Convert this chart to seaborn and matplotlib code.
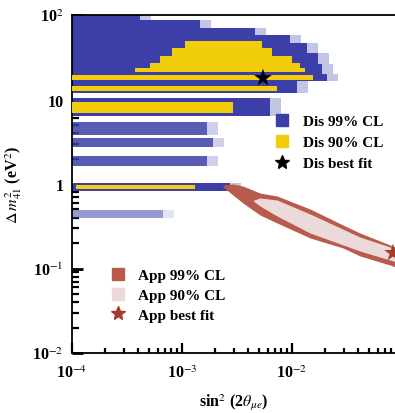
import matplotlib
matplotlib.use("Agg")
import matplotlib.pyplot as plt
import seaborn as sns
import pandas as pd
from matplotlib.lines import Line2D
from matplotlib.ticker import FixedLocator, FixedFormatter, LogLocator, NullFormatter

# ---- Disappearance 99% CL bands (dm2 low, dm2 high, max sin^2) ----
dis99_lo = [87.3, 70.2, 58.0, 46.6, 35.5, 26.3, 20.0, 16.6, 11.9, 6.38, 3.80, 2.74, 1.63, 0.826, 0.396]
dis99_hi = [100.0, 87.3, 70.2, 58.0, 46.6, 35.5, 26.3, 20.0, 16.6, 10.4, 5.42, 3.50, 2.14, 1.03, 0.492]
dis99_smax = [4.15e-4, 1.46e-3, 4.61e-3, 9.59e-3, 1.37e-2, 1.72e-2, 1.87e-2, 2.08e-2, 1.11e-2,
              6.31e-3, 1.69e-3, 1.91e-3, 1.69e-3, 2.73e-3, 6.72e-4]
dis99_density = [1, 1, 1, 1, 1, 1, 1, 1, 1, 1, 0.8, 0.8, 0.8, 1, 0.45]

# ---- Disappearance 90% CL bands (dm2 low, dm2 high, min/max sin^2) ----
dis90_lo = [40.7, 32.7, 27.0, 23.6, 21.2, 17.0, 12.6, 6.92, 0.873]
dis90_hi = [49.2, 40.7, 32.7, 27.0, 23.6, 19.5, 14.4, 9.34, 0.973]
dis90_smin = [1.065e-3, 8.11e-4, 6.31e-4, 5.12e-4, 3.74e-4, 1e-4, 1e-4, 1e-4, 1.087e-4]
dis90_smax = [5.34e-3, 6.58e-3, 1.0e-2, 1.18e-2, 1.31e-2, 1.55e-2, 7.31e-3, 2.91e-3, 1.31e-3]

# ---- Appearance 99% CL contour (sin^2, dm2 lower/upper edges) ----
app99_s = [2.36e-3, 2.91e-3, 3.58e-3, 5.12e-3, 7.31e-3, 1.46e-2, 2.91e-2, 4.15e-2, 7.78e-2, 0.118]
app99_up = [0.973, 1.0, 0.947, 0.782, 0.721, 0.506, 0.327, 0.263, 0.190, 0.153]
app99_lo = [0.922, 0.741, 0.596, 0.430, 0.346, 0.230, 0.175, 0.141, 0.110, 0.0909]

# ---- Appearance 90% CL contour ----
app90_s = [4.42e-3, 5.12e-3, 7.31e-3, 1.46e-2, 4.15e-2, 7.78e-2, 0.118]
app90_up = [0.640, 0.683, 0.647, 0.442, 0.236, 0.180, 0.148]
app90_lo = [0.635, 0.549, 0.418, 0.263, 0.161, 0.126, 0.107]

# ---- Best fits ----
best_names = ["Dis best fit", "App best fit"]
best_s = [5.45e-3, 8.28e-2]
best_dm2 = [18.0, 0.153]

ytick_vals = [1e-2, 1e-1, 1, 10, 100]
ytick_labels = ["10$^{-2}$", "10$^{-1}$", "1", "10", "10$^{2}$"]
xtick_vals = [1e-4, 1e-3, 1e-2]
xtick_labels = ["10$^{-4}$", "10$^{-3}$", "10$^{-2}$"]

BLUE = "#3b3fa7"
YELLOW = "#f2cd0a"
APP99 = "#b85a4c"
APP90 = "#ecdada"
APPSTAR = "#a83a2c"

sns.set_style("white")
plt.rcParams["font.family"] = ["Liberation Serif", "DejaVu Serif"]
plt.rcParams["mathtext.fontset"] = "stix"
plt.rcParams["text.color"] = "black"
plt.rcParams["axes.labelcolor"] = "black"
plt.rcParams["xtick.color"] = "black"
plt.rcParams["ytick.color"] = "black"

fig = plt.figure(figsize=(3.95, 4.14), dpi=100)
ax = fig.add_axes([0.1823, 0.1449, 0.8177, 0.8164])
ax.set_xscale("log")
ax.set_yscale("log")
ax.set_xlim(1e-4, 0.0864)
ax.set_ylim(1e-2, 100)

for lo, hi, sm, d in zip(dis99_lo, dis99_hi, dis99_smax, dis99_density):
    # faded scatter tail beyond the solid region
    ax.fill_betweenx([lo, hi], 1e-4, sm * 1.25, color=BLUE, alpha=0.3 * d, lw=0, zorder=2)
    ax.fill_betweenx([lo, hi], 1e-4, sm, color=BLUE, alpha=d, lw=0, zorder=2)
for lo, hi, s0, s1 in zip(dis90_lo, dis90_hi, dis90_smin, dis90_smax):
    ax.fill_betweenx([lo, hi], s0, s1, color=YELLOW, lw=0, zorder=3)

ax.fill_between(app99_s, app99_lo, app99_up, color=APP99, lw=0, zorder=4)
ax.fill_between(app90_s, app90_lo, app90_up, color=APP90, lw=0, zorder=5)

df = pd.DataFrame({"s": best_s, "dm2": best_dm2, "name": best_names})
sns.scatterplot(data=df, x="s", y="dm2", hue="name", palette=["black", APPSTAR],
                marker="*", s=180, linewidth=0, ax=ax, legend=False, zorder=6)

# axes styling
ax.spines["right"].set_visible(False)
for side in ["left", "bottom", "top"]:
    ax.spines[side].set_color("black")
    ax.spines[side].set_linewidth(1.3)
ax.yaxis.set_major_locator(FixedLocator(ytick_vals))
ax.yaxis.set_major_formatter(FixedFormatter(ytick_labels))
ax.xaxis.set_major_locator(FixedLocator(xtick_vals))
ax.xaxis.set_major_formatter(FixedFormatter(xtick_labels))
ax.yaxis.set_minor_locator(LogLocator(base=10, subs=range(2, 10)))
ax.xaxis.set_minor_locator(LogLocator(base=10, subs=range(2, 10)))
ax.yaxis.set_minor_formatter(NullFormatter())
ax.xaxis.set_minor_formatter(NullFormatter())
ax.tick_params(left=True, bottom=True, top=False, right=False, which="both")
ax.tick_params(axis="y", which="major", direction="in", length=8, width=2, labelsize=11.5, pad=6)
ax.tick_params(axis="y", which="minor", direction="in", length=5, width=1.6)
ax.tick_params(axis="x", which="major", direction="in", length=7, width=1.6, labelsize=11.5, pad=8)
ax.tick_params(axis="x", which="minor", direction="in", length=3.5, width=1.6)
for lab in ax.get_xticklabels() + ax.get_yticklabels():
    lab.set_fontweight("bold")

ax.set_xlabel(r"sin$^2$ (2$\theta_{\mu e}$)", fontsize=11.5, labelpad=8, fontweight="bold")
ax.set_ylabel(r"$\Delta\, m^2_{41}$ (eV$^2$)", fontsize=11.5, labelpad=6, fontweight="bold")

def sq(c):
    return Line2D([], [], marker="s", ls="none", color=c, markersize=9)

def star(c):
    return Line2D([], [], marker="*", ls="none", color=c, markersize=10)

leg1 = ax.legend([sq(BLUE), sq(YELLOW), star("black")],
                 ["Dis 99% CL", "Dis 90% CL", "Dis best fit"],
                 loc="upper left", bbox_to_anchor=(0.628, 0.705), frameon=False,
                 prop={"size": 11, "weight": "bold"}, borderpad=0, borderaxespad=0,
                 handlelength=0.9, handletextpad=0.92, labelspacing=0.47)
ax.add_artist(leg1)
ax.legend([sq(APP99), sq(APP90), star(APPSTAR)],
          ["App 99% CL", "App 90% CL", "App best fit"],
          loc="upper left", bbox_to_anchor=(0.121, 0.25), frameon=False,
          prop={"size": 11, "weight": "bold"}, borderpad=0, borderaxespad=0,
          handlelength=0.9, handletextpad=0.85, labelspacing=0.4)

fig.savefig("out.png", dpi=100)
